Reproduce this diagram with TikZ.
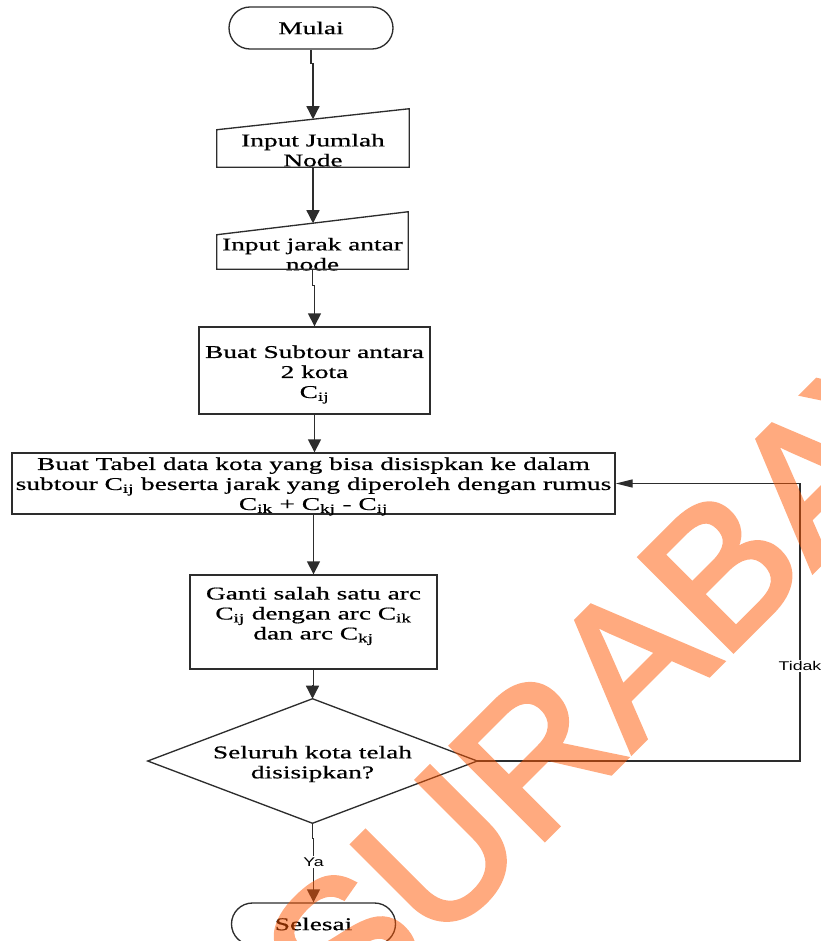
\documentclass[tikz,border=0pt]{standalone}
\usepackage{fontspec}
\setmainfont{Liberation Serif}[FakeStretch=1.52, FakeBold=0.6]
\newfontfamily\lblfont{Liberation Sans}[FakeStretch=1.4]
\newfontfamily\wmfont{Liberation Sans}[FakeBold=2.5]
\usetikzlibrary{arrows.meta,shapes.misc,calc}
\newdimen\upx \upx=0.75pt
\definecolor{lineclr}{RGB}{45,45,45}
\definecolor{wmorange}{RGB}{255,85,0}

\begin{document}
\begin{tikzpicture}[x=0.75pt,y=-0.75pt,
  txt/.style={align=center, font=\fontsize{13.5}{15}\selectfont, inner sep=0pt},
  box/.style={txt, draw=lineclr, line width=1pt, rectangle},
  shapebox/.style={rectangle, inner sep=0pt, txt},
  term/.style={txt, draw=lineclr, line width=1pt, rounded rectangle,
    minimum width=164\upx, minimum height=42\upx},
  outline/.style={draw=lineclr, line width=1pt, line join=miter},
  flow/.style={draw=lineclr, line width=1pt,
    -{Triangle[length=9.75pt,width=9.75pt]}},
  back/.style={draw=lineclr, line width=1pt,
    -{Triangle[length=12.75pt,width=6pt]}},
  lbl/.style={font=\lblfont\fontsize{9.5}{11}\selectfont, fill=white,
    inner sep=1pt},
  wm/.style={font=\wmfont\fontsize{144}{144}\selectfont, text=wmorange,
    inner sep=0pt}
]
\useasboundingbox (0,0) rectangle (820,941);

% start terminal
\node[term] (start) at (311,28) {Mulai};

% manual input: number of nodes
\node[shapebox, minimum width=192\upx, minimum height=47.5\upx,
  label={[txt, yshift=-7\upx]center:{Input Jumlah\\Node}}] (in1) at (313,143.25) {};
\draw[outline] (in1.south west) -- ($(in1.north west)+(0,10.5)$)
  -- ($(in1.north east)+(0,-10.5)$) -- (in1.south east) -- cycle;

% manual input: distances between nodes
\node[shapebox, minimum width=191\upx, minimum height=45.5\upx,
  label={[txt, yshift=-8\upx]center:{Input jarak antar\\node}}] (in2) at (312.5,246.25) {};
\draw[outline] (in2.south west) -- ($(in2.north west)+(0,11.5)$)
  -- ($(in2.north east)+(0,-11.5)$) -- (in2.south east) -- cycle;

% process boxes
\node[box, minimum width=231\upx, minimum height=87\upx,
  label={[txt, yshift=-4\upx]center:{Buat Subtour antara\\2 kota\\C\textsubscript{ij}}}]
  (sub) at (314.5,370.5) {};
\node[box, minimum width=603\upx, minimum height=61\upx,
  label={[txt, yshift=-3\upx]center:{Buat Tabel data kota yang bisa disispkan ke dalam\\
   subtour C\textsubscript{ij} beserta jarak yang diperoleh dengan rumus\\
   C\textsubscript{ik} + C\textsubscript{kj} - C\textsubscript{ij}}}]
  (tab) at (313.5,483.5) {};
\node[box, minimum width=247\upx, minimum height=94\upx,
  label={[txt, yshift=6\upx]center:{Ganti salah satu arc\\
   C\textsubscript{ij} dengan arc C\textsubscript{ik}\\
   dan arc C\textsubscript{kj}}}] (ganti) at (313.5,622) {};

% decision
\node[shapebox, minimum width=329\upx, minimum height=124\upx,
  label={[txt, yshift=-3\upx]center:{Seluruh kota telah\\disisipkan?}}]
  (dec) at (312.5,761) {};
\draw[outline] (dec.west) -- (dec.north) -- (dec.east) -- (dec.south) -- cycle;

% end terminal
\node[term] (stop) at (313.5,924) {Selesai};

% connectors
\draw[flow] (start.south) -- ++(0,14) -| (in1.north);
\draw[flow] (in1.south) -- (in1.south |- in2.north);
\draw[flow] (in2.south) -- ++(0,16) -| (sub.north);
\draw[flow] (sub.south) -- (sub.south |- tab.north);
\draw[flow] (tab.south) -- (tab.south |- ganti.north);
\draw[flow] (ganti.south) -- ++(0,16) -| (dec.north);
\draw[flow] (dec.south) -- ++(0,15) -| (stop.north);
\coordinate (loop) at (800,761);
\draw[back] (dec.east) -- (loop) |- (tab.east);

% branch labels
\node[lbl] (ya) at (313.5,862) {Ya};
\node[lbl] (tidak) at (800,666) {Tidak};

% watermark
\begin{scope}[transparency group, opacity=0.5]
  \node[wm, rotate=45, anchor=base west] (wmark) at (345,1039) {SURABAYA};
\end{scope}
\end{tikzpicture}
\end{document}
